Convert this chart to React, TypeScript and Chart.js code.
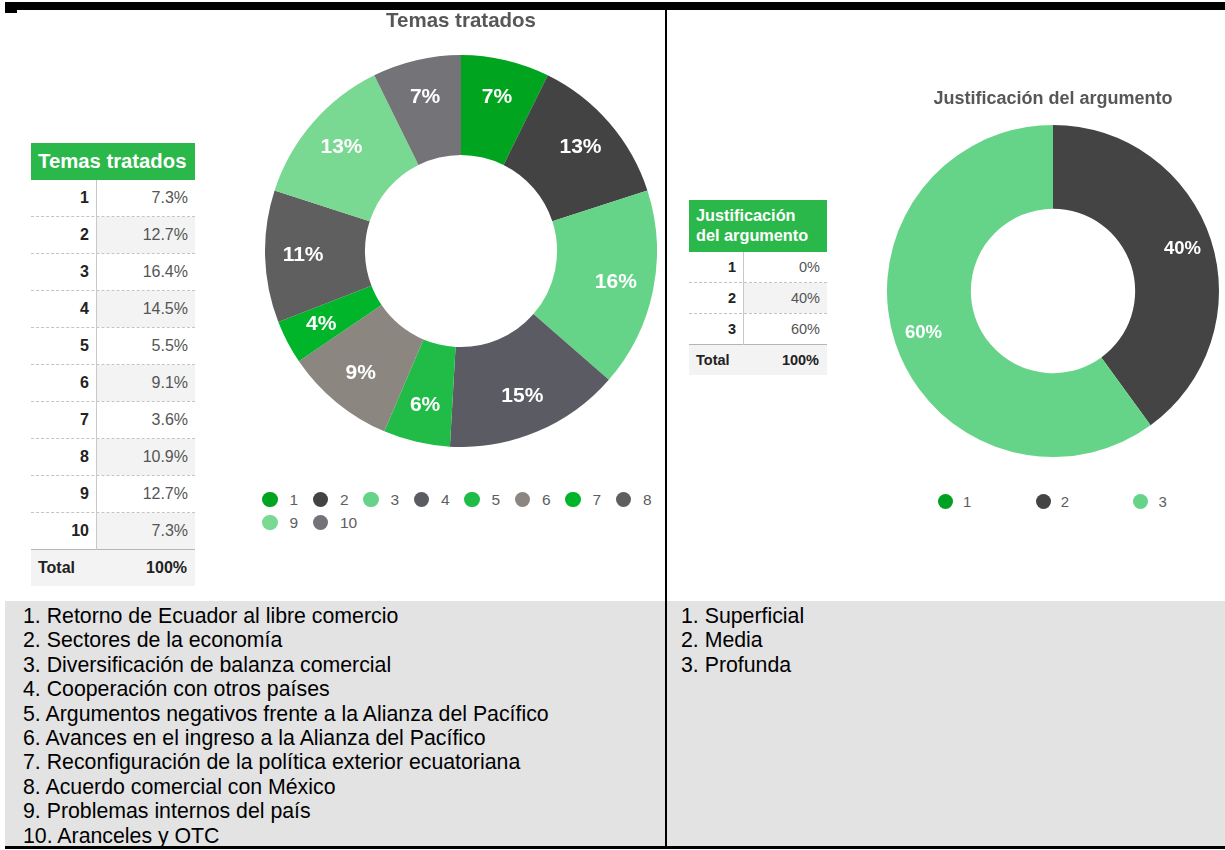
import React, { useEffect, useRef } from 'react';
import { Chart, registerables } from 'chart.js';

Chart.register(...registerables);

// ---------- data ----------
const topicCategories = ['1', '2', '3', '4', '5', '6', '7', '8', '9', '10'];
const topicValues = [7.3, 12.7, 16.4, 14.5, 5.5, 9.1, 3.6, 10.9, 12.7, 7.3];
const topicColors = ['#00a41e', '#434343', '#66d488', '#5b5b63', '#21bb47', '#8b8680', '#00b52a', '#5f5f5f', '#79d891', '#737378'];
const topicNames = [
  'Retorno de Ecuador al libre comercio',
  'Sectores de la economía',
  'Diversificación de balanza comercial',
  'Cooperación con otros países',
  'Argumentos negativos frente a la Alianza del Pacífico',
  'Avances en el ingreso a la Alianza del Pacífico',
  'Reconfiguración de la política exterior ecuatoriana',
  'Acuerdo comercial con México',
  'Problemas internos del país',
  'Aranceles y OTC',
];
const topicTitle = 'Temas tratados';

const justCategories = ['1', '2', '3'];
const justValues = [0, 40, 60];
const justColors = ['#00a020', '#444444', '#66d488'];
const justNames = ['Superficial', 'Media', 'Profunda'];
const justTitle = 'Justificación del argumento';
const justHeaderLines = ['Justificación', 'del argumento'];
const totalLabel = 'Total';
const totalValue = '100%';

const FONT = '"Liberation Sans", Arial, Helvetica, sans-serif';

function makeLabelPlugin(font: string, ratio: number) {
  return {
    id: 'sliceLabels',
    afterDatasetsDraw(chart: any) {
      const ctx = chart.ctx;
      const meta = chart.getDatasetMeta(0);
      const data = chart.data.datasets[0].data as number[];
      ctx.save();
      ctx.fillStyle = '#ffffff';
      ctx.font = font;
      ctx.textAlign = 'center';
      ctx.textBaseline = 'middle';
      meta.data.forEach((arc: any, i: number) => {
        const v = data[i];
        if (!v) return;
        const p = arc.getProps(['x', 'y', 'startAngle', 'endAngle', 'outerRadius'], true);
        const a = (p.startAngle + p.endAngle) / 2;
        const r = p.outerRadius * ratio;
        ctx.fillText(Math.round(v) + '%', p.x + Math.cos(a) * r, p.y + Math.sin(a) * r);
      });
      ctx.restore();
    },
  };
}

type DonutProps = {
  left: number; top: number; width: number; height: number;
  labels: string[]; values: number[]; colors: string[];
  title: string; titleSize: number; padTop: number; padBottom: number;
  cutout: string; labelFont: string; labelRatio: number;
};

function Donut(props: DonutProps) {
  const ref = useRef<HTMLCanvasElement | null>(null);
  useEffect(() => {
    if (!ref.current) return;
    const chart = new Chart(ref.current, {
      type: 'doughnut',
      data: {
        labels: props.labels,
        datasets: [{
          data: props.values,
          backgroundColor: props.colors,
          borderWidth: 0,
        }],
      },
      options: {
        responsive: false,
        animation: false,
        cutout: props.cutout,
        layout: { padding: 0 },
        plugins: {
          legend: { display: false },
          tooltip: { enabled: false },
          title: {
            display: true,
            text: props.title,
            color: '#575757',
            font: { family: FONT, size: props.titleSize, weight: 'bold' },
            padding: { top: props.padTop, bottom: props.padBottom },
          },
        },
      },
      plugins: [makeLabelPlugin(props.labelFont, props.labelRatio)],
    } as any);
    return () => chart.destroy();
  }, []);
  return (
    <canvas
      ref={ref}
      width={props.width}
      height={props.height}
      style={{ position: 'absolute', left: props.left, top: props.top, width: props.width, height: props.height }}
    />
  );
}

function Legend({ left, top, width, itemWidth, labels, colors, dot, gap, fontSize }: any) {
  return (
    <div style={{ position: 'absolute', left, top, width, display: 'flex', flexWrap: 'wrap' }}>
      {labels.map((l: string, i: number) => (
        <div key={i} style={{ width: itemWidth, height: 23, display: 'flex', alignItems: 'center' }}>
          <div style={{ width: dot, height: dot, borderRadius: '50%', background: colors[i], marginRight: gap, flex: 'none' }} />
          <span style={{ fontSize, color: '#5e5e5e', fontFamily: FONT }}>{l}</span>
        </div>
      ))}
    </div>
  );
}

function DataTable({ left, top, width, col1, headerLines, headerH, headerSize, rowH, fontSize, labels, values }: any) {
  const rows = labels.length;
  const bodyTop = headerH;
  const cells: any[] = [];
  labels.forEach((l: string, i: number) => {
    const y = bodyTop + i * rowH;
    const last = i === rows - 1;
    cells.push(
      <div key={'r' + i} style={{
        position: 'absolute', left: 0, top: y, width, height: rowH,
        borderBottom: last ? '1.5px solid #b5b5b5' : '1px dashed #c4c4c4', boxSizing: 'border-box',
      }}>
        <div style={{
          position: 'absolute', left: 0, top: 0, width: col1, height: '100%', display: 'flex',
          alignItems: 'center', justifyContent: 'flex-end', paddingRight: 7, boxSizing: 'border-box',
          fontWeight: 'bold', color: '#222', fontSize,
        }}>{l}</div>
        <div style={{
          position: 'absolute', left: col1, top: 0, width: width - col1, height: '100%', display: 'flex',
          alignItems: 'center', justifyContent: 'flex-end', paddingRight: 7, boxSizing: 'border-box',
          color: '#555', fontSize, background: i % 2 === 1 ? '#f3f3f3' : '#ffffff',
        }}>{values[i]}</div>
      </div>,
    );
  });
  return (
    <div style={{ position: 'absolute', left, top, width, height: headerH + rows * rowH + rowH, fontFamily: FONT }}>
      <div style={{
        position: 'absolute', left: 0, top: 0, width, height: headerH, background: '#2bb84a',
        color: '#fff', fontWeight: 'bold', fontSize: headerSize, display: 'flex', flexDirection: 'column',
        justifyContent: 'center', paddingLeft: 7, boxSizing: 'border-box', lineHeight: 1.2, whiteSpace: 'nowrap',
      }}>
        {headerLines.map((h: string, i: number) => <div key={i}>{h}</div>)}
      </div>
      {cells}
      <div style={{ position: 'absolute', left: col1, top: headerH, width: 1, height: rows * rowH, background: '#c8c8c8' }} />
      <div style={{
        position: 'absolute', left: 0, top: headerH + rows * rowH, width, height: rowH - 1, background: '#f3f3f3',
        display: 'flex', alignItems: 'center', justifyContent: 'space-between', padding: '0 8px 0 7px', boxSizing: 'border-box',
        fontWeight: 'bold', color: '#222', fontSize,
      }}>
        <span>{totalLabel}</span><span>{totalValue}</span>
      </div>
    </div>
  );
}

export default function App() {
  const topicTable = topicValues.map((v) => v.toFixed(1) + '%');
  const justTable = justValues.map((v) => v + '%');
  return (
    <div style={{ position: 'absolute', left: 0, top: 0, width: 1225, height: 850, background: '#fff', fontFamily: FONT, overflow: 'hidden' }}>
      {/* frame */}
      <div style={{ position: 'absolute', left: 5, top: 2, width: 1220, height: 8, background: '#000' }} />
      <div style={{ position: 'absolute', left: 5, top: 10, width: 12, height: 3, background: '#000' }} />
      <div style={{ position: 'absolute', left: 5, top: 601, width: 660, height: 245, background: '#e3e3e3' }} />
      <div style={{ position: 'absolute', left: 667, top: 601, width: 558, height: 245, background: '#e3e3e3' }} />
      <div style={{ position: 'absolute', left: 665, top: 10, width: 2, height: 838, background: '#000' }} />
      <div style={{ position: 'absolute', left: 5, top: 846, width: 1220, height: 3, background: '#000' }} />

      {/* left panel */}
      <DataTable left={31} top={143} width={164} col1={65} headerLines={[topicTitle]} headerH={37} headerSize={20.3}
        rowH={37} fontSize={16} labels={topicCategories} values={topicTable} />
      <Donut left={265} top={0} width={392} height={447} labels={topicCategories} values={topicValues} colors={topicColors}
        title={topicTitle} titleSize={20.5} padTop={8.7} padBottom={21.7} cutout="49%"
        labelFont={'bold 21px ' + FONT} labelRatio={0.806} />
      <Legend left={262} top={488} width={410} itemWidth={50.5} labels={topicCategories} colors={topicColors}
        dot={15.5} gap={12} fontSize={15.5} />

      {/* right panel */}
      <DataTable left={689} top={200} width={138} col1={54} headerLines={justHeaderLines} headerH={52} headerSize={16.3}
        rowH={31} fontSize={14.5} labels={justCategories} values={justTable} />
      <Donut left={887} top={80} width={332} height={377} labels={justCategories} values={justValues} colors={justColors}
        title={justTitle} titleSize={18} padTop={8.2} padBottom={15.2} cutout="49.5%"
        labelFont={'bold 18.5px ' + FONT} labelRatio={0.82} />
      <Legend left={938} top={490} width={300} itemWidth={97.7} labels={justCategories} colors={justColors}
        dot={15} gap={10} fontSize={15} />

      {/* notes */}
      <div style={{ position: 'absolute', left: 23, top: 604, fontSize: 21.3, lineHeight: '24.4px', color: '#000', whiteSpace: 'nowrap' }}>
        {topicNames.map((n, i) => <div key={i}>{(i + 1) + '. ' + n}</div>)}
      </div>
      <div style={{ position: 'absolute', left: 681, top: 604, fontSize: 21.3, lineHeight: '24.4px', color: '#000', whiteSpace: 'nowrap' }}>
        {justNames.map((n, i) => <div key={i}>{(i + 1) + '. ' + n}</div>)}
      </div>
    </div>
  );
}
